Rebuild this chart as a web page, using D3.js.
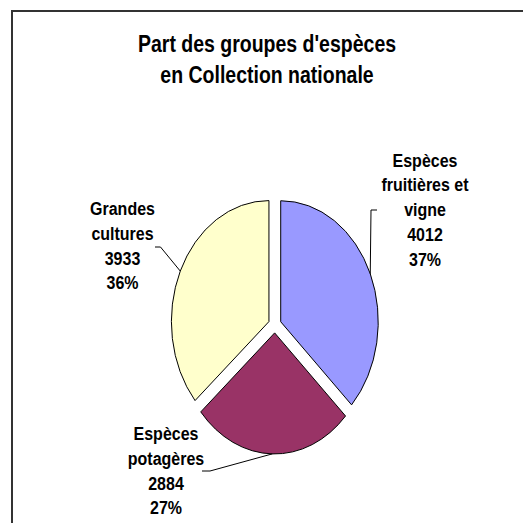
<!DOCTYPE html>
<html>
<head>
<meta charset="utf-8">
<script src="https://cdn.jsdelivr.net/npm/d3@7.9.0/dist/d3.min.js"></script>
<style>
  html, body { margin: 0; padding: 0; background: #fff; }
  svg { display: block; font-family: "Liberation Sans", Arial, sans-serif; font-weight: bold; }
</style>
</head>
<body>
<svg id="chart" width="523" height="523"></svg>
<script>
// Data
const titleLines = ["Part des groupes d'espèces", "en Collection nationale"];
const categories = ["Espèces fruitières et vigne", "Espèces potagères", "Grandes cultures"];
const labelLines = [["Espèces", "fruitières et", "vigne"], ["Espèces", "potagères"], ["Grandes", "cultures"]];
const values = [4012, 2884, 3933];
const colors = ["#9999FF", "#993366", "#FFFFCC"];

// Layout (the original picture is stretched vertically, so the pie is an ellipse)
const cx = 274.8, cy = 324.9, rx = 97.5, ry = 121;
const explode = 0.066;
// label centre x, first baseline y, leader elbow [x0, x1, y]
const labelPos = [
  { x: 425, y: 166.5, leader: [377, 371, 210] },
  { x: 166, y: 440, leader: [202, 210, 471] },
  { x: 122.5, y: 215, leader: [155, 160.5, 247] }
];
const lineGap = 24.8;

const svg = d3.select('#chart');

// Frame
svg.append('rect')
  .attr('x', 12).attr('y', 11)
  .attr('width', 600).attr('height', 600)
  .attr('fill', 'none')
  .attr('stroke', '#333')
  .attr('stroke-width', 2);

// Title
titleLines.forEach((t, i) => {
  svg.append('text')
    .attr('transform', `translate(267,${51.5 + i * 31.5}) scale(1,1.24)`)
    .attr('text-anchor', 'middle')
    .attr('font-size', 19.5)
    .text(t);
});

// Pie
const total = d3.sum(values);
const pie = d3.pie().sort(null).value((d) => d);
const arcData = pie(values);
const arcGen = d3.arc().innerRadius(0).outerRadius(1);

const sx = d3.scaleLinear().domain([-1, 1]).range([cx - rx, cx + rx]);
const sy = d3.scaleLinear().domain([-1, 1]).range([cy - ry, cy + ry]);

const pieG = svg.append('g');
arcData.forEach((d, i) => {
  let mid = (d.startAngle + d.endAngle) / 2;
  let ox = explode * Math.sin(mid), oy = -explode * Math.cos(mid);
  pieG.append('path')
    .attr('d', arcGen(d))
    .attr('transform', `translate(${sx(ox)},${sy(oy)}) scale(${rx},${ry})`)
    .attr('fill', colors[i])
    .attr('stroke', '#000')
    .attr('stroke-width', 1)
    .attr('vector-effect', 'non-scaling-stroke');
});

// Labels and leader lines
arcData.forEach((d, i) => {
  let mid = (d.startAngle + d.endAngle) / 2;
  let px = sx((1 + explode) * Math.sin(mid));
  let py = sy(-(1 + explode) * Math.cos(mid));
  let p = labelPos[i];
  let [x0, x1, ly] = p.leader;
  svg.append('path')
    .attr('d', d3.line()([[x0, ly], [x1, ly], [px, py]]))
    .attr('fill', 'none')
    .attr('stroke', '#000')
    .attr('stroke-width', 1);

  let pct = Math.round(d.value / total * 100) + '%';
  let lines = labelLines[i].concat([String(d.value), pct]);
  lines.forEach((t, j) => {
    svg.append('text')
      .attr('transform', `translate(${p.x},${p.y + j * lineGap}) scale(1,1.12)`)
      .attr('text-anchor', 'middle')
      .attr('font-size', 16)
      .text(t);
  });
});
</script>
</body>
</html>
